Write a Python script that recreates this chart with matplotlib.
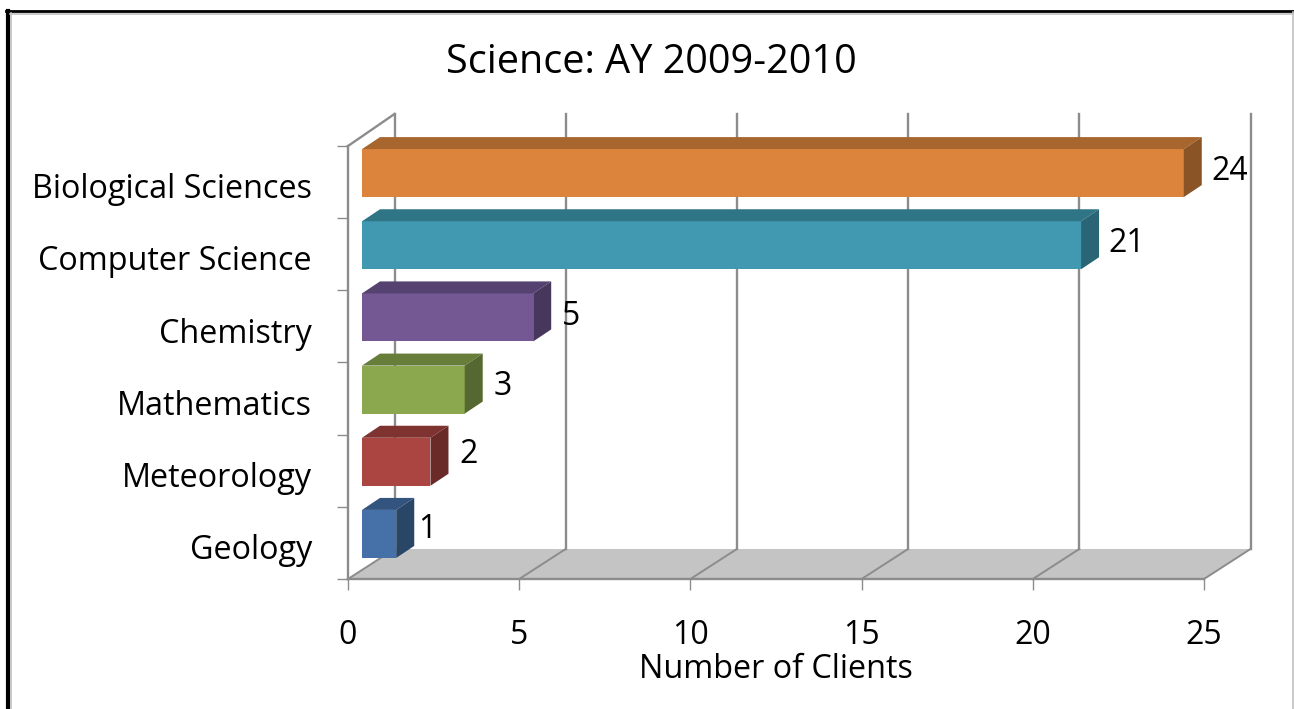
import matplotlib
matplotlib.use("Agg")
import matplotlib.pyplot as plt
from matplotlib.lines import Line2D
from matplotlib.patches import Polygon

categories = ["Geology", "Meteorology", "Mathematics", "Chemistry", "Computer Science", "Biological Sciences"]
values = [1, 2, 3, 5, 21, 24]
front_colors = ["#4571a8", "#ab4541", "#8ba84e", "#735893", "#4199b1", "#dd843c"]
top_colors = ["#33547f", "#7f3330", "#677d3a", "#554270", "#2f7585", "#a8662f"]
side_colors = ["#2a4667", "#692a28", "#566831", "#47375d", "#2a6575", "#8a5426"]
x_ticks = [0, 5, 10, 15, 20, 25]
label_lift = [3, 5, 2, 1, 1, 1]
label_gap = [3, 8, 8, 8, 7, 7]

W, H = 1294, 709
plt.rcParams["font.family"] = ["Open Sans", "DejaVu Sans"]

fig = plt.figure(figsize=(W / 100, H / 100), dpi=100)
left, right, top, bottom = 348, 1204, 146, 579
ax = fig.add_axes([left / W, 1 - bottom / H, (right - left) / W, (bottom - top) / H])
ax.set_xlim(0, 25)
ax.set_ylim(0, 6)
px = 25 / (right - left)
py = 6 / (bottom - top)
grid = "#8c8c8c"

# floor and back wall of the fake 3d box
ax.add_patch(Polygon([(0, 0), (25, 0), (25 + 46.5 * px, 30 * py), (46.5 * px, 30 * py)],
                     closed=True, fc="#c4c4c4", ec="none", clip_on=False, zorder=1))
for t in x_ticks:
    ax.plot([t + 46.5 * px, t + 46.5 * px], [30 * py, 6 + 32 * py], color=grid, lw=1.7, clip_on=False, zorder=2)
    ax.plot([t, t + 46.5 * px], [0, 30 * py], color=grid, lw=1.4, clip_on=False, zorder=2)
ax.plot([0, 46.5 * px], [6, 6 + 32 * py], color=grid, lw=1.7, clip_on=False, zorder=2)

# bars, front face plus top and side faces
bar_h = 48 * py
off_x = 14 * px
off_y = 9 * py
dep_x = 18 * px
dep_y = 12 * py
for i, v in enumerate(values):
    y0 = i + 0.5 - bar_h / 2 + off_y
    y1 = y0 + bar_h
    x0 = off_x
    x1 = v + off_x
    ax.barh(y0, v, height=bar_h, left=x0, align="edge", color=front_colors[i], zorder=3 + i * 0.01, clip_on=False)
    ax.add_patch(Polygon([(x0, y1), (x1, y1), (x1 + dep_x, y1 + dep_y), (x0 + dep_x, y1 + dep_y)],
                         closed=True, fc=top_colors[i], ec="none", clip_on=False, zorder=3 + i * 0.01))
    ax.add_patch(Polygon([(x1, y0), (x1, y1), (x1 + dep_x, y1 + dep_y), (x1 + dep_x, y0 + dep_y)],
                         closed=True, fc=side_colors[i], ec="none", clip_on=False, zorder=3 + i * 0.01))
    ax.annotate(str(v), (x1 + dep_x, (y0 + y1) / 2), xytext=(label_gap[i], label_lift[i]), textcoords="offset points",
                ha="left", va="center", fontsize=23, color="black", zorder=5)

for s in ["top", "right"]:
    ax.spines[s].set_visible(False)
for s in ["left", "bottom"]:
    ax.spines[s].set_color(grid)
    ax.spines[s].set_linewidth(1.7)
    ax.spines[s].set_zorder(2)
ax.patch.set_alpha(0)

ax.set_xticks(x_ticks)
ax.tick_params(axis="x", length=8, width=1, color=grid, pad=21, labelsize=23)
ax.set_yticks(range(7))
ax.set_yticklabels([])
ax.tick_params(axis="y", length=8, width=1, color=grid)
ax.set_yticks([i + 0.45 for i in range(6)], categories, minor=True)
ax.tick_params(axis="y", which="minor", length=0, pad=26, labelsize=23.3)
ax.set_xlabel("Number of Clients", fontsize=23.3, labelpad=0)
ax.xaxis.set_label_coords((776 - left) / (right - left), -(669 - bottom) / (bottom - top), transform=ax.transAxes)
ax.xaxis.label.set_va("center")

fig.text(651 / W, 1 - 63 / H, "Science: AY 2009-2010", fontsize=28.5, ha="center", va="center")

# picture frame
frame = [
    ((8 / W, 8 / W), (0, 1 - 11 / H), "black", 3),
    ((6 / W, 1), (1 - 11 / H, 1 - 11 / H), "black", 2),
    ((10.5 / W, 10.5 / W), (0, 1 - 13 / H), "#c0c0c0", 1.2),
    ((10 / W, 1), (1 - 13.5 / H, 1 - 13.5 / H), "#c0c0c0", 1.2),
    ((1292.5 / W, 1292.5 / W), (0, 1 - 12 / H), "#c0c0c0", 1.2),
]
for xs, ys, c, lw in frame:
    fig.add_artist(Line2D(xs, ys, color=c, lw=lw, transform=fig.transFigure))

fig.savefig("out.png", dpi=100)
